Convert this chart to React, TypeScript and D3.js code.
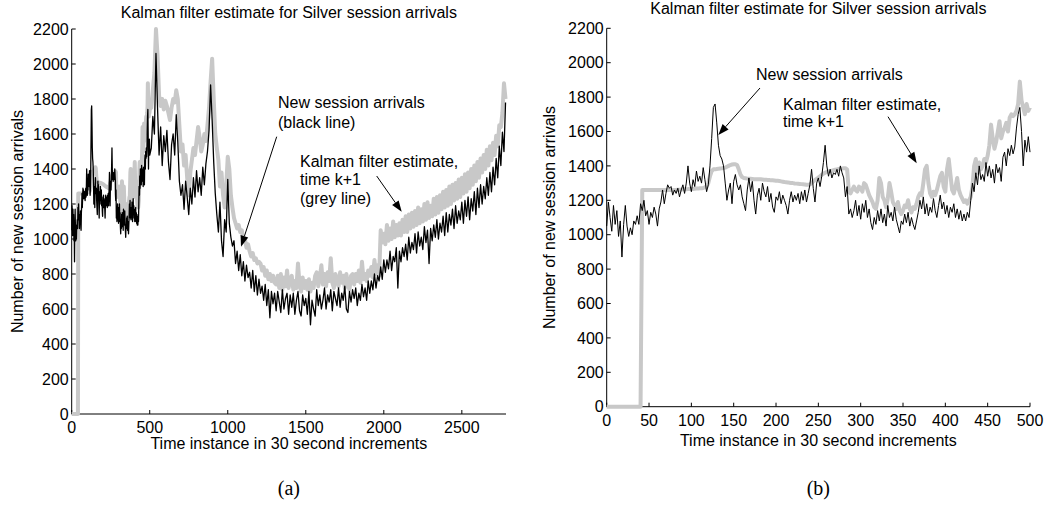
import React from "react";
import * as d3 from "d3";

// ---------- data ----------
// fine samples: t = 0, 2, 4, ... 500
const fineStep = 2;
const arrivalsFine = [
  1050, 1190, 1100, 1020, 1170, 1060, 1140, 990, 1080, 870,
  1060, 1170, 1050, 990, 1040, 1000, 1080, 1060, 1110, 1060,
  1180, 1140, 1200, 1110, 1140, 1060, 1130, 1100, 1160, 1120,
  1050, 1150, 1190, 1260, 1180, 1240, 1290, 1270, 1280, 1230,
  1260, 1240, 1270, 1220, 1260, 1290, 1240, 1300, 1400, 1300,
  1250, 1320, 1280, 1370, 1310, 1340, 1300, 1390, 1320, 1250,
  1290, 1400, 1560, 1740, 1760, 1650, 1520, 1460, 1440, 1400,
  1300, 1200, 1260, 1300, 1180, 1310, 1350, 1290, 1260, 1290,
  1220, 1180, 1140, 1260, 1330, 1250, 1310, 1200, 1120, 1230,
  1270, 1200, 1300, 1250, 1220, 1280, 1190, 1240, 1160, 1130,
  1220, 1200, 1250, 1180, 1230, 1200, 1170, 1120, 1200, 1250,
  1190, 1230, 1200, 1240, 1180, 1250, 1200, 1260, 1190, 1240,
  1290, 1380, 1270, 1190, 1300, 1330, 1280, 1340, 1420, 1520,
  1400, 1340, 1380, 1330, 1360, 1350, 1380, 1340, 1400, 1360,
  1330, 1220, 1280, 1120, 1150, 1100, 1140, 1200, 1110, 1170,
  1090, 1180, 1130, 1200, 1100, 1150, 1070, 1030, 1100, 1060,
  1140, 1080, 1150, 1070, 1120, 1050, 1170, 1100, 1130, 1080,
  1160, 1090, 1050, 1010, 1080, 1060, 1120, 1070, 1130, 1050,
  1100, 1060, 1030, 1080, 1130, 1200, 1150, 1220, 1120, 1180,
  1110, 1160, 1130, 1210, 1140, 1100, 1170, 1230, 1150, 1190,
  1120, 1170, 1100, 1160, 1130, 1180, 1100, 1150, 1090, 1140,
  1080, 1120, 1080, 1130, 1100, 1200, 1300, 1250, 1360, 1290,
  1400, 1320, 1350, 1310, 1420, 1340, 1400, 1330, 1380, 1300,
  1410, 1360, 1390, 1310, 1450, 1480, 1400, 1500, 1460, 1520,
  1470, 1510, 1620, 1700, 1740, 1600, 1400, 1550, 1480, 1570,
  1480,
];
const estimateFine = [
  0, 0, 0, 0, 0, 0, 0, 0, 0, 0,
  0, 0, 0, 0, 0, 0, 0, 0, 0, 0,
  0, 1260, 1260, 1260, 1260, 1260, 1260, 1260, 1260, 1260,
  1260, 1260, 1260, 1260, 1260, 1260, 1260, 1260, 1260, 1260,
  1260, 1260, 1262, 1262, 1262, 1264, 1264, 1264, 1265, 1265,
  1266, 1266, 1267, 1268, 1268, 1270, 1270, 1272, 1275, 1280,
  1300, 1340, 1370, 1380, 1380, 1382, 1384, 1385, 1386, 1388,
  1390, 1395, 1400, 1405, 1408, 1410, 1410, 1405, 1380, 1350,
  1335, 1330, 1328, 1326, 1325, 1325, 1324, 1323, 1322, 1322,
  1322, 1322, 1321, 1320, 1320, 1318, 1318, 1316, 1316, 1315,
  1314, 1313, 1312, 1310, 1308, 1306, 1305, 1304, 1302, 1300,
  1300, 1298, 1297, 1296, 1295, 1294, 1293, 1292, 1290, 1290,
  1292, 1300, 1310, 1318, 1325, 1332, 1340, 1348, 1355, 1360,
  1365, 1368, 1370, 1372, 1375, 1378, 1380, 1382, 1384, 1385,
  1386, 1386, 1380, 1250, 1240, 1260, 1280, 1260, 1250, 1280,
  1270, 1250, 1300, 1290, 1260, 1230, 1210, 1190, 1160, 1150,
  1200, 1330, 1300, 1220, 1200, 1160, 1210, 1300, 1250, 1190,
  1170, 1150, 1190, 1140, 1120, 1140, 1170, 1160, 1200, 1150,
  1130, 1160, 1150, 1180, 1220, 1240, 1230, 1300, 1380, 1400,
  1300, 1240, 1220, 1250, 1230, 1260, 1300, 1340, 1360, 1280,
  1250, 1380, 1440, 1350, 1260, 1240, 1280, 1330, 1260, 1230,
  1210, 1190, 1200, 1180, 1200, 1220, 1280, 1400, 1440, 1360,
  1420, 1380, 1400, 1440, 1420, 1460, 1520, 1640, 1560, 1500,
  1540, 1600, 1660, 1560, 1600, 1620, 1650, 1600, 1680, 1700,
  1690, 1700, 1720, 1760, 1890, 1780, 1740, 1700, 1760, 1720,
  1740,
];

// coarse samples: t = 510, 520, ... 2780
const coarseStart = 510;
const coarseStep = 10;
const arrivalsCoarse = [
  1520, 1700, 1600, 2060, 1750, 1480, 1640, 1420, 1590, 1500,
  1620, 1440, 1340, 1540, 1600, 1480, 1710, 1550, 1330, 1250,
  1310, 1170, 1330, 1240, 1140, 1290, 1200, 1350, 1240, 1390,
  1270, 1350, 1250, 1410, 1310, 1430, 1500, 1620, 1880, 1680,
  1440, 1260, 1140, 1040, 1210, 990, 900, 1110, 1040, 1340,
  1090, 1010, 960, 990, 860, 930, 820, 910, 790, 870,
  760, 850, 780, 810, 720, 820, 700, 790, 680, 770,
  690, 730, 650, 740, 620, 710, 550, 700, 630, 690,
  590, 700, 640, 580, 710, 600, 660, 690, 570, 680,
  610, 690, 570, 650, 700, 590, 560, 680, 620, 660,
  570, 700, 510, 650, 600, 560, 710, 620, 680, 600,
  650, 720, 600, 680, 640, 710, 590, 700, 660, 620,
  720, 610, 690, 650, 730, 600, 580, 700, 640, 710,
  660, 720, 620, 690, 650, 740, 670, 720, 650, 760,
  690, 760, 710, 800, 720, 790, 760, 840, 770, 880,
  810, 880, 830, 930, 820, 900, 870, 950, 720, 930,
  870, 950, 900, 970, 880, 1010, 920, 980, 940, 1030,
  920, 1040, 960, 1010, 940, 1070, 980, 1050, 860, 1060,
  990, 1080, 1010, 1110, 1000, 1090, 1040, 1130, 1020, 1150,
  1040, 1140, 1080, 1170, 1060, 1190, 1090, 1160, 1110, 1210,
  1090, 1220, 1130, 1240, 1110, 1230, 1160, 1270, 1140, 1290,
  1180, 1310, 1200, 1300, 1230, 1350, 1250, 1380, 1270, 1410,
  1310, 1460, 1350, 1530, 1420, 1610, 1500, 1780,
];
const estimateCoarse = [
  1750, 1850, 1950, 2200, 2050, 1820, 1760, 1800, 1740, 1790,
  1760, 1720, 1680, 1750, 1800, 1780, 1850, 1800, 1650, 1500,
  1540, 1420, 1480, 1350, 1250, 1380, 1450, 1520, 1480, 1560,
  1640, 1580, 1500, 1540, 1600, 1560, 1650, 1750, 1900, 2030,
  1800, 1600, 1520, 1450, 1300, 1380, 1250, 1180, 1300, 1470,
  1400, 1250, 1180, 1120, 1090, 1060, 1080, 1040, 1050, 990,
  1000, 950, 970, 930, 900, 920, 880, 890, 860, 870,
  860, 820, 840, 790, 820, 770, 800, 760, 790, 750,
  740, 790, 720, 800, 710, 780, 730, 820, 720, 770,
  790, 710, 760, 720, 860, 740, 700, 780, 720, 760,
  710, 770, 700, 750, 720, 790, 810, 730, 780, 850,
  740, 800, 730, 810, 760, 890, 750, 720, 800, 770,
  730, 810, 750, 790, 720, 800, 740, 710, 790, 800,
  740, 800, 760, 820, 750, 870, 770, 800, 760, 820,
  790, 840, 780, 880, 800, 850, 790, 1050, 980, 1030,
  970, 1080, 990, 1060, 1000, 1100, 1010, 1080, 1020, 1090,
  1020, 1110, 1040, 1130, 1040, 1140, 1060, 1150, 1070, 1160,
  1080, 1180, 1090, 1170, 1100, 1200, 1110, 1210, 1120, 1190,
  1130, 1230, 1140, 1240, 1150, 1250, 1170, 1270, 1180, 1280,
  1190, 1300, 1200, 1310, 1220, 1320, 1230, 1340, 1240, 1350,
  1260, 1370, 1270, 1380, 1290, 1400, 1310, 1420, 1330, 1440,
  1350, 1460, 1380, 1480, 1400, 1510, 1420, 1530, 1450, 1550,
  1480, 1590, 1530, 1650, 1640, 1720, 1890, 1800,
];

const yTicks = [0, 200, 400, 600, 800, 1000, 1200, 1400, 1600, 1800, 2000, 2200];
const xTicksA = [0, 500, 1000, 1500, 2000, 2500];
const xTicksB = [0, 50, 100, 150, 200, 250, 300, 350, 400, 450, 500];

const titleText = "Kalman filter estimate for Silver session arrivals";
const xLabelText = "Time instance in 30 second increments";
const yLabelText = "Number of new session arrivals";

type Pt = [number, number];
const finePts = (arr: number[]): Pt[] => arr.map((v, i) => [i * fineStep, v]);
const coarsePts = (arr: number[]): Pt[] => arr.map((v, i) => [coarseStart + i * coarseStep, v]);

const blackA: Pt[] = [...finePts(arrivalsFine), ...coarsePts(arrivalsCoarse)];
const greyA: Pt[] = [...finePts(estimateFine), ...coarsePts(estimateCoarse)];
const blackB: Pt[] = finePts(arrivalsFine);
const greyB: Pt[] = finePts(estimateFine);

const FONT = "'Liberation Sans', Arial, Helvetica, sans-serif";
const GREY = "#c8c8c8";

type Note = { lines: string[]; x: number; y: number; lh: number; arrow: [number, number, number, number] };

type PanelCfg = {
  left: number; right: number; bottom: number; top: number;
  xMax: number; xTicks: number[];
  black: Pt[]; grey: Pt[]; blackWidth: number;
  titleY: number; xLabelY: number; yLabelX: number; tag: string;
  notes: Note[];
};

function Arrow({ a }: { a: [number, number, number, number] }) {
  const [x1, y1, x2, y2] = a;
  const ang = Math.atan2(y2 - y1, x2 - x1);
  const len = 11, half = 4;
  const bx = x2 - len * Math.cos(ang), by = y2 - len * Math.sin(ang);
  const px = -Math.sin(ang) * half, py = Math.cos(ang) * half;
  return (
    <g>
      <line x1={x1} y1={y1} x2={bx} y2={by} stroke="#000" strokeWidth={1} />
      <polygon points={`${x2},${y2} ${bx + px},${by + py} ${bx - px},${by - py}`} fill="#000" />
    </g>
  );
}

function Panel({ c }: { c: PanelCfg }) {
  const x = d3.scaleLinear().domain([0, c.xMax]).range([c.left, c.right]);
  const y = d3.scaleLinear().domain([0, 2200]).range([c.bottom, c.top]);
  const line = d3.line<Pt>().x((d) => x(d[0])).y((d) => y(d[1]));
  const cx = (c.left + c.right) / 2;
  const cy = (c.top + c.bottom) / 2;
  return (
    <g fontFamily={FONT} fill="#000">
      <text x={cx} y={c.titleY} fontSize={16} textAnchor="middle">{titleText}</text>
      {/* axes */}
      <line x1={c.left} y1={c.top} x2={c.left} y2={c.bottom} stroke="#000" strokeWidth={1} />
      <line x1={c.left} y1={c.bottom} x2={c.right} y2={c.bottom} stroke="#000" strokeWidth={1} />
      {yTicks.map((t) => (
        <g key={"y" + t}>
          <line x1={c.left} x2={c.left + 4} y1={y(t)} y2={y(t)} stroke="#000" />
          <text x={c.left - 3} y={y(t)} dy="0.35em" fontSize={16} textAnchor="end">{t}</text>
        </g>
      ))}
      {c.xTicks.map((t) => (
        <g key={"x" + t}>
          <line x1={x(t)} x2={x(t)} y1={c.bottom} y2={c.bottom - 4} stroke="#000" />
          <text x={x(t)} y={c.bottom + 19} fontSize={16} textAnchor="middle">{t}</text>
        </g>
      ))}
      <text x={cx} y={c.xLabelY} fontSize={16} textAnchor="middle">{xLabelText}</text>
      <text transform={`translate(${c.yLabelX},${cy}) rotate(-90)`} fontSize={16} textAnchor="middle">{yLabelText}</text>
      {/* series */}
      <path d={line(c.grey) || ""} fill="none" stroke={GREY} strokeWidth={4} strokeLinejoin="round" />
      <path d={line(c.black) || ""} fill="none" stroke="#000" strokeWidth={c.blackWidth} strokeLinejoin="round" />
      {/* annotations */}
      {c.notes.map((n, i) => (
        <g key={"n" + i}>
          {n.lines.map((s, j) => (
            <text key={j} x={n.x} y={n.y + j * n.lh} fontSize={16}>{s}</text>
          ))}
          <Arrow a={n.arrow} />
        </g>
      ))}
      <text x={cx} y={495} fontSize={20} textAnchor="middle" fontFamily="'Liberation Serif', 'Times New Roman', serif">{c.tag}</text>
    </g>
  );
}

const panelA: PanelCfg = {
  left: 71.7, right: 506, bottom: 414, top: 29, xMax: 2783, xTicks: xTicksA,
  black: blackA, grey: greyA, blackWidth: 1.3, titleY: 17.5, xLabelY: 449, yLabelX: 23, tag: "(a)",
  notes: [
    { lines: ["New session arrivals", "(black line)"], x: 278, y: 108, lh: 19.5, arrow: [276.7, 136.7, 241, 246.7] },
    { lines: ["Kalman filter estimate,", "time k+1", "(grey line)"], x: 300, y: 166.5, lh: 18.5, arrow: [376.7, 176, 401.7, 211.7] },
  ],
};

const panelB: PanelCfg = {
  left: 606.7, right: 1030, bottom: 406.7, top: 28.3, xMax: 500, xTicks: xTicksB,
  black: blackB, grey: greyB, blackWidth: 1, titleY: 14.3, xLabelY: 446, yLabelX: 555, tag: "(b)",
  notes: [
    { lines: ["New session arrivals"], x: 756, y: 80, lh: 18, arrow: [760, 88, 718.3, 135] },
    { lines: ["Kalman filter estimate,", "time k+1"], x: 783, y: 109.5, lh: 17.5, arrow: [888, 116.7, 916.7, 163.3] },
  ],
};

export default function App() {
  return (
    <svg
      width={1064}
      height={508}
      style={{ position: "absolute", left: 0, top: 0, background: "#fff" }}
    >
      <rect x={0} y={0} width={1064} height={508} fill="#fff" />
      <Panel c={panelA} />
      <Panel c={panelB} />
    </svg>
  );
}
